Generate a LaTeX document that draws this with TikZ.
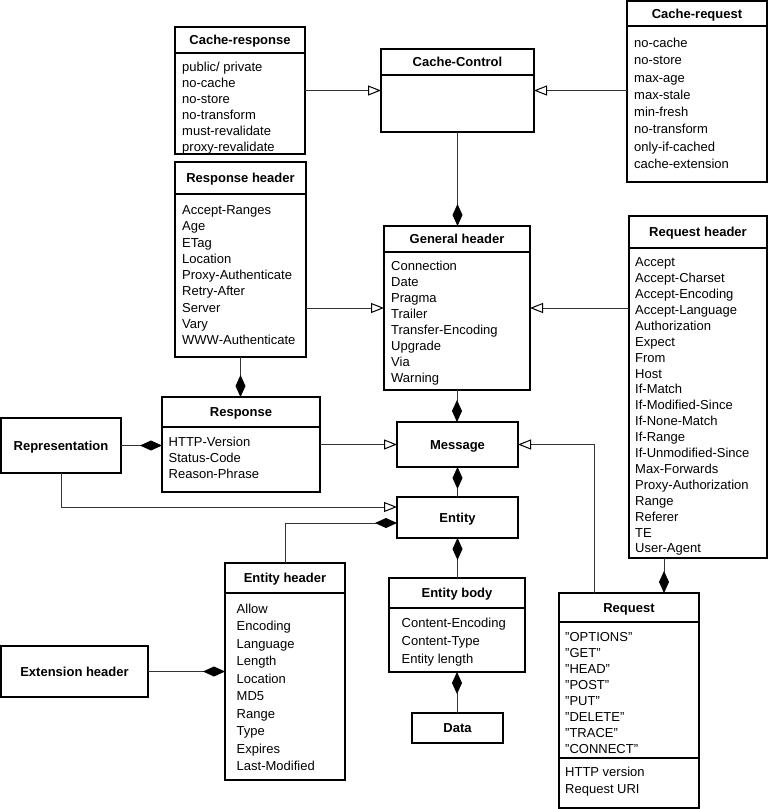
\documentclass[tikz,border=0pt]{standalone}
\usepackage{fontspec}
\setmainfont{Liberation Sans}
\usetikzlibrary{arrows.meta}

\tikzset{
  box/.style={draw=black, line width=1.1pt, fill=white, inner sep=0pt, outer sep=0pt, anchor=north west},
  sbox/.style={box, font=\fontsize{13}{16}\selectfont\bfseries, text height=9.4pt, text depth=0pt},
  ttl/.style={font=\fontsize{13}{16}\selectfont\bfseries, anchor=base, inner sep=0pt},
  itm/.style={anchor=base west, inner sep=0pt},
  conn/.style={draw=black!80, line width=1pt},
  inh/.style={conn, -{Triangle[open, length=13pt, width=10pt, black]}},
  comp/.style={conn, -{Diamond[length=22pt, width=10pt, black]}},
  compr/.style={conn, {Diamond[length=22pt, width=10pt, black]}-},
}

% #1 name, #2 x0, #3 y0, #4 x1, #5 y1, #6 divider y, #7 title
\newcommand{\umlbox}[7]{%
  \node[box, minimum width={#4-#2}, minimum height={#5-#3}] (#1) at (#2,#3) {};
  \draw[line width=1.1pt] (#2,#6) -- (#4,#6);
  \node[ttl] (#1-t) at ({(#2+#4)/2},{(#3+#6)/2+4.8}) {#7};
}
% #1 name, #2 x, #3 first baseline, #4 pitch, #5 items
\newcommand{\umlitems}[5]{%
  \node[itm, font=\fontsize{13}{#4}\selectfont] (#1) at (#2,#3)
    {\begin{tabular}[t]{@{}l@{}}#5\end{tabular}};
}

\begin{document}
\begin{tikzpicture}[x=1pt,y=-1pt]
\useasboundingbox (0,0) rectangle (768,809);

% Cache-response
\umlbox{cresp}{175}{27}{305}{154}{53}{Cache-response}
\umlitems{cresp-i}{182}{71.4}{16.1}{public/ private\\ no-cache\\ no-store\\ no-transform\\ must-revalidate\\ proxy-revalidate}

% Cache-Control
\umlbox{ccontrol}{381}{49}{534}{132}{75}{Cache-Control}

% Cache-request
\umlbox{creq}{627}{1}{767}{182}{26}{Cache-request}
\umlitems{creq-i}{634}{47.4}{17.3}{no-cache\\ no-store\\ max-age\\ max-stale\\ min-fresh\\ no-transform\\ only-if-cached\\ cache-extension}

% Response header
\umlbox{resph}{175}{162}{306}{357}{194}{Response header}
\umlitems{resph-i}{182}{214.7}{16.25}{Accept-Ranges\\ Age\\ ETag\\ Location\\ Proxy-Authenticate\\ Retry-After\\ Server\\ Vary\\ WWW-Authenticate}

% General header
\umlbox{genh}{384}{226}{530}{390}{252}{General header}
\umlitems{genh-i}{391}{270.7}{15.9}{Connection\\ Date\\ Pragma\\ Trailer\\ Transfer-Encoding\\ Upgrade\\ Via\\ Warning}

% Request header
\umlbox{reqh}{629}{216}{767}{558}{248}{Request header}
\umlitems{reqh-i}{635}{266.7}{15.9}{Accept\\ Accept-Charset\\ Accept-Encoding\\ Accept-Language\\ Authorization\\ Expect\\ From\\ Host\\ If-Match\\ If-Modified-Since\\ If-None-Match\\ If-Range\\ If-Unmodified-Since\\ Max-Forwards\\ Proxy-Authorization\\ Range\\ Referer\\ TE\\ User-Agent}

% Response
\umlbox{resp}{162}{397}{320}{492}{427}{Response}
\umlitems{resp-i}{168.5}{446.7}{16}{HTTP-Version\\ Status-Code\\ Reason-Phrase}

% Entity header
\umlbox{enth}{225}{563}{345}{780}{593}{Entity header}
\umlitems{enth-i}{236.5}{613}{17.55}{Allow\\ Encoding\\ Language\\ Length\\ Location\\ MD5\\ Range\\ Type\\ Expires\\ Last-Modified}

% Entity body
\umlbox{entb}{389}{578}{525}{672}{608}{Entity body}
\umlitems{entb-i}{401.5}{627.4}{17.8}{Content-Encoding\\ Content-Type\\ Entity length}

% Request
\umlbox{req}{559}{593}{699}{808}{622}{Request}
\draw[line width=1.1pt] (req.west |- 0,758) -- (req.east |- 0,758);
\umlitems{req-i}{565}{641.4}{16.04}{"OPTIONS"\\ "GET"\\ "HEAD"\\ "POST"\\ "PUT"\\ "DELETE"\\ "TRACE"\\ "CONNECT"}
\umlitems{req-j}{565}{776.4}{16.6}{HTTP version\\ Request URI}

% simple boxes
\node[sbox, minimum width=121, minimum height=45] (msg) at (397,422) {Message};
\node[sbox, minimum width=121, minimum height=41] (ent) at (397,497) {Entity};
\node[sbox, minimum width=120, minimum height=55] (repr) at (1,418) {Representation};
\node[sbox, minimum width=147, minimum height=51] (extn) at (1,646) {Extension header};
\node[sbox, minimum width=91, minimum height=30] (data) at (412,713) {Data};

% connectors
\draw[inh] (cresp.east) -- (ccontrol.west);
\draw[inh] (creq.west |- ccontrol.east) -- (ccontrol.east);
\draw[comp] (ccontrol.south) -- (ccontrol.south |- genh.north);
\draw[inh] (resph.east |- genh.west) -- (genh.west);
\draw[inh] (reqh.west |- genh.east) -- (genh.east);
\draw[comp] (resph.south) -- (resph.south |- resp.north);
\draw[comp] (genh.south) -- (genh.south |- msg.north);
\draw[compr] (msg.south) -- (msg.south |- ent.north);
\draw[compr] (ent.south) -- (ent.south |- entb.north);
\draw[compr] (entb.south) -- (entb.south |- data.north);
\draw[inh] (resp.east) -- (resp.east -| msg.west);
\draw[comp] (repr.east) -- (repr.east -| resp.west);
\draw[inh] (repr.south) |- ([yshift=10.5pt]ent.west);
\draw[comp] (enth.north) |- ([yshift=-5.5pt]ent.west);
\draw[comp] (extn.east) -- (enth.west);
\coordinate (rx) at (664,0);
\draw[comp] (rx |- reqh.south) -- (rx |- req.north);
\coordinate (lx) at (594,0);
\draw[inh] (lx |- req.north) |- (msg.east);
\end{tikzpicture}
\end{document}
